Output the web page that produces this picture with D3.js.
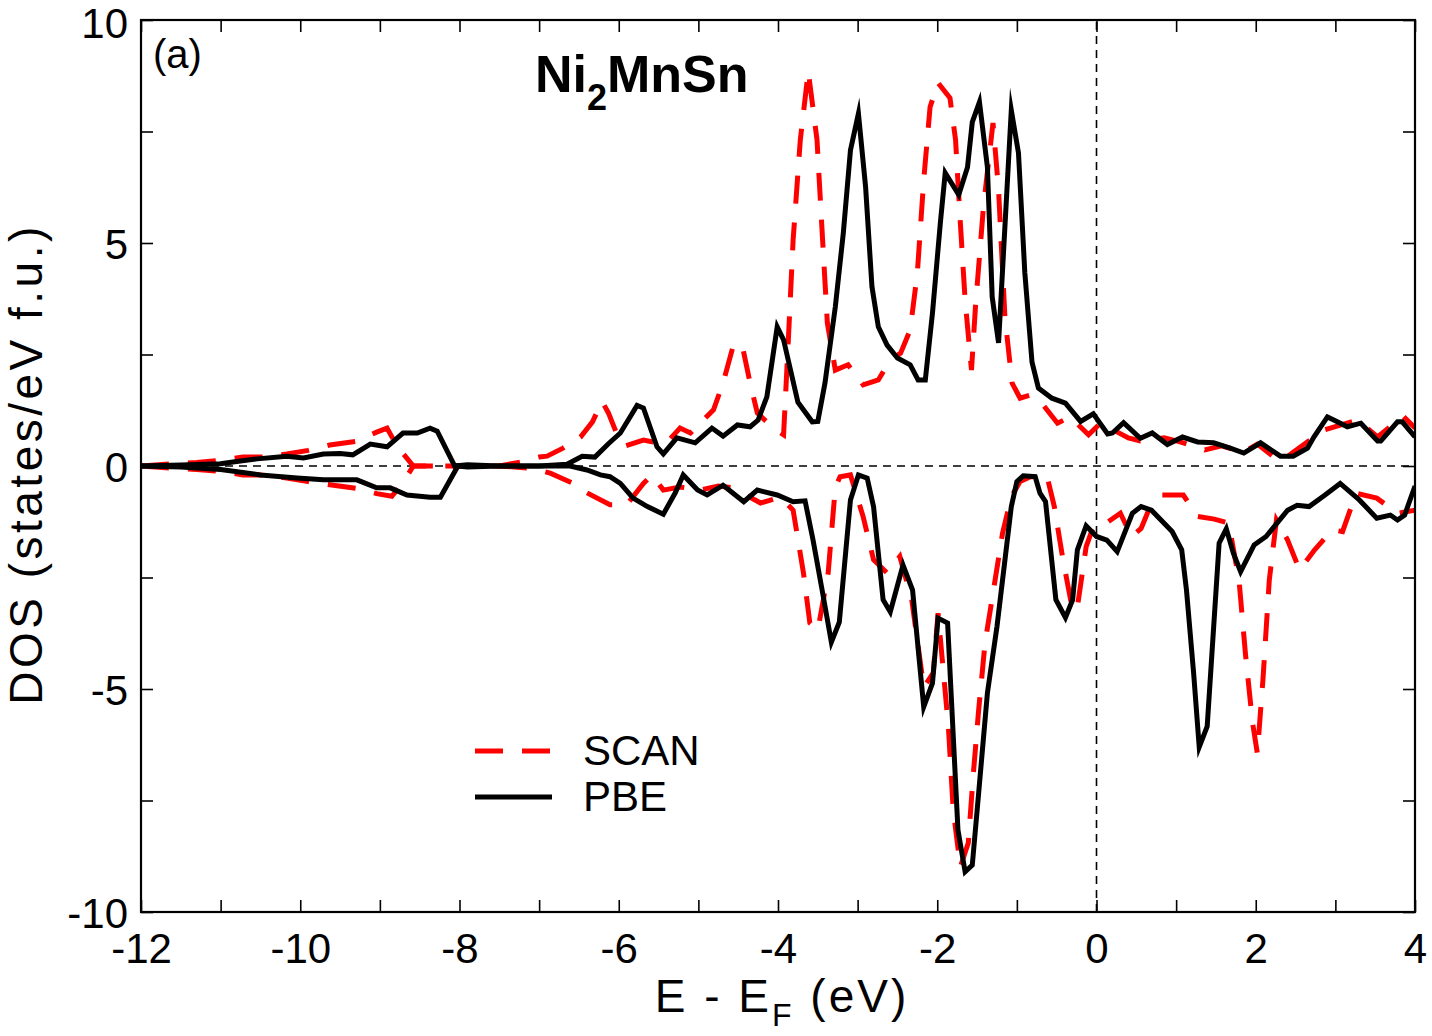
<!DOCTYPE html>
<html>
<head>
<meta charset="utf-8">
<script src="https://cdn.jsdelivr.net/npm/d3@7"></script>
<style>
  body { margin: 0; background: #fff; }
  text { font-family: "Liberation Sans", Arial, Helvetica, sans-serif; }
</style>
</head>
<body>
<div id="chart"></div>
<script>
// Chart size
var width = 1432, height = 1036;
var margin = {left: 141, top: 20, right: 17, bottom: 124};

// DOS data, [E - EF (eV), states/eV f.u.]
var scanUp = [[-12,0],[-11.6,0.05],[-11.3,0.08],[-11,0.13],[-10.72,0.2],[-10.45,0.2],[-10.17,0.27],[-9.9,0.35],[-9.63,0.47],[-9.3,0.55],[-9.04,0.76],[-8.91,0.85],[-8.78,0.43],[-8.58,0],[-8,0],[-7.5,0],[-7.2,0.1],[-7,0.2],[-6.9,0.22],[-6.7,0.4],[-6.48,0.65],[-6.33,0.99],[-6.21,1.45],[-6.13,1.19],[-6.02,0.7],[-5.92,0.45],[-5.69,0.58],[-5.52,0.52],[-5.39,0.54],[-5.23,0.85],[-5.1,0.74],[-4.98,0.96],[-4.81,1.26],[-4.69,1.86],[-4.56,2.71],[-4.45,2.71],[-4.35,1.86],[-4.26,1.19],[-4.06,0.85],[-3.93,0.7],[-3.87,2.83],[-3.81,5.07],[-3.72,7.31],[-3.62,8.85],[-3.51,7.31],[-3.44,5.07],[-3.38,3.2],[-3.28,2.15],[-3.12,2.27],[-2.93,1.82],[-2.74,1.93],[-2.59,2.38],[-2.46,2.53],[-2.34,3.05],[-2.25,4.33],[-2.17,6.41],[-2.09,8.05],[-1.99,8.59],[-1.84,8.25],[-1.77,7.31],[-1.71,5.45],[-1.65,3.72],[-1.57,2.15],[-1.52,3.57],[-1.42,5.81],[-1.3,7.69],[-1.23,6.19],[-1.15,3.34],[-1.06,1.86],[-0.96,1.52],[-0.83,1.59],[-0.67,1.37],[-0.49,0.96],[-0.33,1.1],[-0.1,0.7],[0.05,0.96],[0.21,0.81],[0.4,0.63],[0.55,0.56],[0.85,0.63],[1.05,0.54],[1.36,0.36],[1.57,0.45],[1.85,0.31],[2.02,0.49],[2.31,0.09],[2.47,0.31],[2.86,0.81],[3.28,1.03],[3.53,0.65],[3.85,1.12],[4,0.85]];

var scanDown = [[-12,0],[-11.6,-0.05],[-11.3,-0.08],[-11,-0.12],[-10.72,-0.2],[-10.45,-0.2],[-10.17,-0.27],[-9.9,-0.35],[-9.63,-0.42],[-9.3,-0.5],[-9.04,-0.62],[-8.85,-0.68],[-8.72,-0.4],[-8.58,0],[-8,0],[-7.5,0],[-7.1,-0.05],[-6.86,-0.16],[-6.57,-0.39],[-6.4,-0.6],[-6.11,-0.87],[-5.9,-0.87],[-5.69,-0.39],[-5.58,-0.2],[-5.44,-0.54],[-5.23,-0.47],[-4.98,-0.54],[-4.75,-0.45],[-4.56,-0.49],[-4.22,-0.83],[-3.97,-0.7],[-3.81,-0.99],[-3.68,-2.4],[-3.6,-3.52],[-3.5,-3.68],[-3.37,-2.4],[-3.28,-0.47],[-3.22,-0.24],[-3.09,-0.2],[-2.93,-1.14],[-2.8,-2.1],[-2.63,-2.4],[-2.47,-2.03],[-2.32,-3],[-2.17,-4.96],[-2.05,-4.64],[-1.99,-3.3],[-1.86,-5.85],[-1.8,-7.7],[-1.71,-8.99],[-1.61,-8.45],[-1.55,-6.97],[-1.48,-5.47],[-1.4,-3.97],[-1.3,-2.85],[-1.18,-1.51],[-1.07,-0.69],[-0.96,-0.35],[-0.83,-0.24],[-0.62,-0.24],[-0.53,-0.91],[-0.42,-2.11],[-0.3,-3.23],[-0.24,-3.16],[-0.13,-1.81],[-0.04,-1.36],[0.09,-1.32],[0.3,-1.06],[0.44,-1.58],[0.56,-1.4],[0.69,-0.84],[0.8,-0.65],[1.09,-0.65],[1.27,-1.13],[1.48,-1.19],[1.66,-1.28],[1.79,-2.56],[1.87,-4.2],[1.96,-5.76],[2.02,-6.44],[2.09,-4.8],[2.17,-2.56],[2.26,-1.21],[2.4,-1.66],[2.55,-2.33],[2.74,-1.88],[2.96,-1.43],[3.09,-1.47],[3.26,-0.61],[3.52,-0.72],[3.78,-1.06],[4,-0.99]];

var pbeUp = [[-12,0],[-11.5,0.02],[-11,0.05],[-10.8,0.1],[-10.54,0.16],[-10.17,0.22],[-9.96,0.18],[-9.71,0.27],[-9.5,0.28],[-9.34,0.25],[-9.12,0.49],[-8.91,0.43],[-8.71,0.74],[-8.53,0.74],[-8.37,0.85],[-8.28,0.78],[-8.06,0],[-7.9,0.03],[-7.5,0],[-7,0],[-6.65,0.04],[-6.46,0.22],[-6.3,0.2],[-6.13,0.5],[-5.98,0.74],[-5.77,1.36],[-5.69,1.3],[-5.52,0.43],[-5.44,0.27],[-5.27,0.63],[-5.04,0.52],[-4.83,0.85],[-4.69,0.67],[-4.51,0.92],[-4.35,0.88],[-4.25,1.03],[-4.14,1.55],[-4.01,3.12],[-3.93,2.83],[-3.75,1.43],[-3.57,0.99],[-3.5,1],[-3.41,1.86],[-3.28,3.57],[-3.18,5.22],[-3.09,7.08],[-2.99,7.9],[-2.9,6.26],[-2.82,4.02],[-2.74,3.12],[-2.63,2.71],[-2.5,2.42],[-2.34,2.27],[-2.24,1.93],[-2.15,1.93],[-2.06,3.43],[-1.96,5.47],[-1.9,6.57],[-1.73,6.08],[-1.62,6.7],[-1.56,7.71],[-1.47,8.16],[-1.37,6.7],[-1.31,3.79],[-1.23,2.76],[-1.07,7.98],[-0.98,7.02],[-0.9,4.33],[-0.81,2.33],[-0.73,1.75],[-0.56,1.52],[-0.39,1.41],[-0.2,1],[-0.04,1.17],[0.14,0.72],[0.2,0.74],[0.34,0.97],[0.55,0.62],[0.7,0.74],[0.89,0.48],[1.08,0.65],[1.27,0.54],[1.47,0.52],[1.68,0.4],[1.85,0.29],[2.06,0.52],[2.31,0.22],[2.47,0.22],[2.65,0.4],[2.73,0.65],[2.9,1.1],[2.98,1.03],[3.15,0.88],[3.32,0.96],[3.53,0.56],[3.57,0.56],[3.78,0.99],[3.84,0.99],[4,0.65]];

var pbeDown = [[-12,0],[-11.5,-0.02],[-11,-0.08],[-10.5,-0.2],[-10.04,-0.27],[-9.71,-0.31],[-9.29,-0.31],[-9.04,-0.49],[-8.87,-0.49],[-8.66,-0.65],[-8.37,-0.7],[-8.24,-0.7],[-8.02,0],[-7.9,-0.02],[-7.5,0],[-7,0],[-6.61,0],[-6.4,-0.09],[-6.23,-0.2],[-6.11,-0.24],[-5.98,-0.39],[-5.82,-0.72],[-5.64,-0.91],[-5.44,-1.08],[-5.29,-0.6],[-5.19,-0.2],[-5.01,-0.54],[-4.89,-0.65],[-4.69,-0.43],[-4.43,-0.8],[-4.26,-0.54],[-4.01,-0.65],[-3.81,-0.8],[-3.66,-0.78],[-3.56,-1.66],[-3.43,-2.94],[-3.33,-3.95],[-3.23,-3.5],[-3.09,-0.76],[-2.99,-0.2],[-2.88,-0.27],[-2.8,-0.91],[-2.68,-3],[-2.59,-3.27],[-2.43,-2.22],[-2.31,-2.78],[-2.17,-5.4],[-2.06,-4.87],[-1.99,-3.41],[-1.87,-3.52],[-1.74,-8.16],[-1.65,-9.1],[-1.56,-8.95],[-1.48,-7.33],[-1.37,-5.09],[-1.25,-3.6],[-1.15,-2.11],[-1.07,-0.91],[-1,-0.35],[-0.92,-0.22],[-0.77,-0.24],[-0.71,-0.61],[-0.64,-0.8],[-0.51,-3],[-0.39,-3.4],[-0.3,-3],[-0.24,-1.88],[-0.13,-1.34],[0,-1.58],[0.13,-1.66],[0.26,-1.92],[0.45,-1.06],[0.56,-0.91],[0.69,-0.99],[0.95,-1.47],[1.07,-1.88],[1.13,-2.78],[1.22,-4.65],[1.29,-6.3],[1.39,-5.84],[1.54,-1.73],[1.63,-1.41],[1.72,-1.96],[1.81,-2.37],[1.98,-1.77],[2.13,-1.58],[2.4,-0.99],[2.52,-0.88],[2.67,-0.91],[2.87,-0.65],[3.06,-0.39],[3.3,-0.76],[3.52,-1.17],[3.69,-1.1],[3.78,-1.21],[3.87,-1.1],[4,-0.45]];

// Axis ticks and labels
var xTicks = d3.range(-12, 5, 1);
var xLabelTicks = [-12, -10, -8, -6, -4, -2, 0, 2, 4];
var yTicks = d3.range(-10, 10.1, 2.5);
var yLabelTicks = [-10, -5, 0, 5, 10];

var series = [
  {name: "SCAN", up: scanUp, down: scanDown, color: "#ff0000", dash: "28,19"},
  {name: "PBE", up: pbeUp, down: pbeDown, color: "#000000", dash: null}
];

var svg = d3.select("#chart").append("svg")
    .attr("width", width)
    .attr("height", height);

var x = d3.scaleLinear().domain([-12, 4]).range([margin.left, width - margin.right]);
var y = d3.scaleLinear().domain([-10, 10]).range([height - margin.bottom, margin.top]);

svg.append("defs").append("clipPath").attr("id", "plot-clip")
  .append("rect")
    .attr("x", x(-12)).attr("y", y(10))
    .attr("width", x(4) - x(-12)).attr("height", y(-10) - y(10));

// Zero lines (dashed)
svg.append("line")
    .attr("x1", x(-12)).attr("x2", x(4))
    .attr("y1", y(0)).attr("y2", y(0))
    .attr("stroke", "#000").attr("stroke-width", 1.6)
    .attr("stroke-dasharray", "8,6");
svg.append("line")
    .attr("x1", x(0)).attr("x2", x(0))
    .attr("y1", y(-10)).attr("y2", y(10))
    .attr("stroke", "#000").attr("stroke-width", 1.6)
    .attr("stroke-dasharray", "8,6");

// Curves
var line = d3.line()
    .x(function(d) { return x(d[0]); })
    .y(function(d) { return y(d[1]); });

var curves = svg.append("g").attr("clip-path", "url(#plot-clip)");
series.forEach(function(s) {
  [s.up, s.down].forEach(function(data) {
    curves.append("path")
        .datum(data)
        .attr("d", line)
        .attr("fill", "none")
        .attr("stroke", s.color)
        .attr("stroke-width", 5)
        .attr("stroke-linejoin", "miter")
        .attr("stroke-miterlimit", 10)
        .attr("stroke-dasharray", s.dash);
  });
});

// Axes with inward ticks on all four sides
function fmt(d) { return String(d); }

var bottomAxis = d3.axisBottom(x).tickValues(xTicks).tickSizeInner(-12).tickSizeOuter(0).tickPadding(18)
    .tickFormat(function(d) { return xLabelTicks.indexOf(d) >= 0 ? fmt(d) : ""; });
var topAxis = d3.axisTop(x).tickValues(xTicks).tickSizeInner(-12).tickSizeOuter(0).tickFormat("");
var leftAxis = d3.axisLeft(y).tickValues(yTicks).tickSizeInner(-12).tickSizeOuter(0).tickPadding(13)
    .tickFormat(function(d) { return yLabelTicks.indexOf(d) >= 0 ? fmt(d) : ""; });
var rightAxis = d3.axisRight(y).tickValues(yTicks).tickSizeInner(-12).tickSizeOuter(0).tickFormat("");

var gB = svg.append("g").attr("transform", "translate(0," + y(-10) + ")").call(bottomAxis);
var gT = svg.append("g").attr("transform", "translate(0," + y(10) + ")").call(topAxis);
var gL = svg.append("g").attr("transform", "translate(" + x(-12) + ",0)").call(leftAxis);
var gR = svg.append("g").attr("transform", "translate(" + x(4) + ",0)").call(rightAxis);

[gB, gT, gL, gR].forEach(function(g) {
  g.select(".domain").remove();
  g.selectAll(".tick line").attr("stroke", "#000").attr("stroke-width", 1.6);
  g.selectAll(".tick text")
      .attr("fill", "#000")
      .style("font-size", "42px")
      .style("font-family", "'Liberation Sans', Arial, sans-serif");
});
gB.selectAll(".tick text").attr("dy", "0.78em");
gL.selectAll(".tick text").attr("dy", function(d) { return d === 10 ? "0.42em" : "0.36em"; });

// Frame
svg.append("rect")
    .attr("x", x(-12)).attr("y", y(10))
    .attr("width", x(4) - x(-12)).attr("height", y(-10) - y(10))
    .attr("fill", "none").attr("stroke", "#000").attr("stroke-width", 2.2);

// Axis titles
var xTitle = svg.append("text")
    .attr("x", 782).attr("y", 1012)
    .attr("text-anchor", "middle")
    .style("font-size", "46px")
    .style("letter-spacing", "3px");
xTitle.append("tspan").text("E - E");
xTitle.append("tspan").attr("dy", 14).style("font-size", "32px").text("F");
xTitle.append("tspan").attr("dy", -14).text(" (eV)");

svg.append("text")
    .attr("transform", "translate(42," + (y(0) - 2) + ") rotate(-90)")
    .attr("text-anchor", "middle")
    .style("font-size", "46px")
    .style("letter-spacing", "3.5px")
    .text("DOS (states/eV f.u.)");

// Panel label and compound name
svg.append("text")
    .attr("x", 153).attr("y", 68)
    .style("font-size", "40px")
    .text("(a)");

var title = svg.append("text")
    .attr("x", 535).attr("y", 92)
    .style("font-size", "52px")
    .style("font-weight", "bold");
title.append("tspan").text("Ni");
title.append("tspan").attr("dy", 18).style("font-size", "36px").text("2");
title.append("tspan").attr("dy", -18).text("MnSn");

// Legend
var legend = svg.append("g");
series.forEach(function(s, i) {
  var ly = 751 + i * 46;
  legend.append("line")
      .attr("x1", 475).attr("x2", 552)
      .attr("y1", ly).attr("y2", ly)
      .attr("stroke", s.color).attr("stroke-width", 5)
      .attr("stroke-dasharray", s.dash);
  legend.append("text")
      .attr("x", 583).attr("y", ly + 14)
      .style("font-size", "42px")
      .text(s.name);
});
</script>
</body>
</html>
